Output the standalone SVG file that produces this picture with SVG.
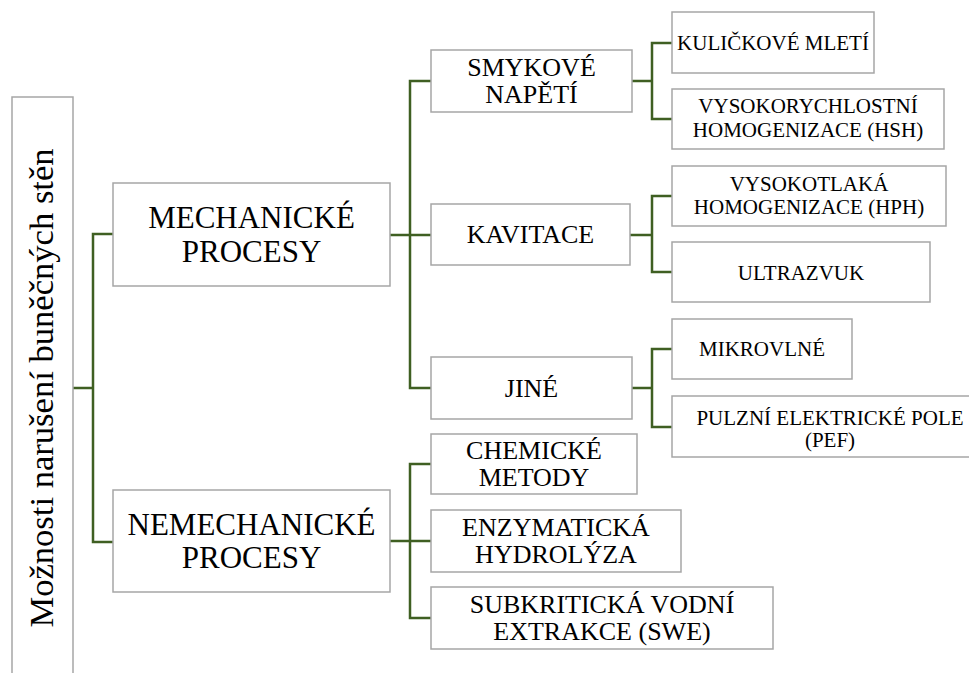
<svg xmlns="http://www.w3.org/2000/svg" width="969" height="673" viewBox="0 0 969 673">
<style>
.box{fill:#ffffff;stroke:#a6a6a6;stroke-width:1.5}
text{font-family:'Liberation Serif','Times New Roman',serif;fill:#000000;text-anchor:middle}
.l0{font-size:34.6px}
.l1{font-size:31px}
.l2{font-size:26px}
.l3{font-size:21px}
.c{fill:none;stroke:#3f5f22;stroke-width:2.5;stroke-linecap:square}
</style>
<rect x="0" y="0" width="969" height="673" fill="#ffffff"/>
<g id="connectors">
<path class="c" d="M73,388 H93 M93,234 V542 M93,234 H113 M93,542 H113"/>
<path class="c" d="M390,235 H410 M410,81 V388 M410,81 H431 M410,235 H431 M410,388 H431"/>
<path class="c" d="M390,541 H410 M410,464 V618 M410,464 H431 M410,541 H431 M410,618 H431"/>
<path class="c" d="M632,81 H652 M652,43 V119 M652,43 H672 M652,119 H672"/>
<path class="c" d="M630,235 H652 M652,196 V272 M652,196 H672 M652,272 H672"/>
<path class="c" d="M632,388 H652 M652,349 V427 M652,349 H672 M652,427 H672"/>
</g>
<g id="root">
<rect class="box" x="12" y="97" width="61" height="600"/>
<text class="l0" transform="translate(53,388) rotate(-90)">Možnosti narušení buněčných stěn</text>
</g>
<g id="mechanicke">
<rect class="box" x="113" y="183" width="277" height="103"/>
<text class="l1" x="251.5" y="228">MECHANICKÉ</text>
<text class="l1" x="251.5" y="262">PROCESY</text>
</g>
<g id="nemechanicke">
<rect class="box" x="113" y="490" width="277" height="102"/>
<text class="l1" x="251.5" y="535">NEMECHANICKÉ</text>
<text class="l1" x="251.5" y="568">PROCESY</text>
</g>
<g id="smykove">
<rect class="box" x="431" y="50" width="201" height="62"/>
<text class="l2" x="531.5" y="76">SMYKOVÉ</text>
<text class="l2" x="531.5" y="103">NAPĚTÍ</text>
</g>
<g id="kavitace">
<rect class="box" x="431" y="204" width="199" height="61"/>
<text class="l2" x="530.5" y="243">KAVITACE</text>
</g>
<g id="jine">
<rect class="box" x="431" y="357" width="201" height="62"/>
<text class="l2" x="531.5" y="397">JINÉ</text>
</g>
<g id="chemicke">
<rect class="box" x="431" y="434" width="206" height="60"/>
<text class="l2" x="534" y="459">CHEMICKÉ</text>
<text class="l2" x="534" y="486">METODY</text>
</g>
<g id="enzymaticka">
<rect class="box" x="431" y="510" width="250" height="62"/>
<text class="l2" x="556" y="536">ENZYMATICKÁ</text>
<text class="l2" x="556" y="563">HYDROLÝZA</text>
</g>
<g id="subkriticka">
<rect class="box" x="431" y="587" width="342" height="62"/>
<text class="l2" x="602" y="613">SUBKRITICKÁ VODNÍ</text>
<text class="l2" x="602" y="640">EXTRAKCE (SWE)</text>
</g>
<g id="kulickove">
<rect class="box" x="672" y="12" width="202" height="61"/>
<text class="l3" x="773" y="50">KULIČKOVÉ MLETÍ</text>
</g>
<g id="hsh">
<rect class="box" x="672" y="89" width="272" height="60"/>
<text class="l3" x="808" y="113">VYSOKORYCHLOSTNÍ</text>
<text class="l3" x="808" y="137">HOMOGENIZACE (HSH)</text>
</g>
<g id="hph">
<rect class="box" x="672" y="166" width="274" height="60"/>
<text class="l3" x="809" y="191">VYSOKOTLAKÁ</text>
<text class="l3" x="809" y="214">HOMOGENIZACE (HPH)</text>
</g>
<g id="ultrazvuk">
<rect class="box" x="672" y="242" width="258" height="60"/>
<text class="l3" x="801" y="280">ULTRAZVUK</text>
</g>
<g id="mikrovlne">
<rect class="box" x="672" y="319" width="180" height="60"/>
<text class="l3" x="762" y="356">MIKROVLNÉ</text>
</g>
<g id="pef">
<rect class="box" x="672" y="396" width="317" height="61"/>
<text class="l3" x="830" y="425">PULZNÍ ELEKTRICKÉ POLE</text>
<text class="l3" x="830" y="447">(PEF)</text>
</g>
</svg>
